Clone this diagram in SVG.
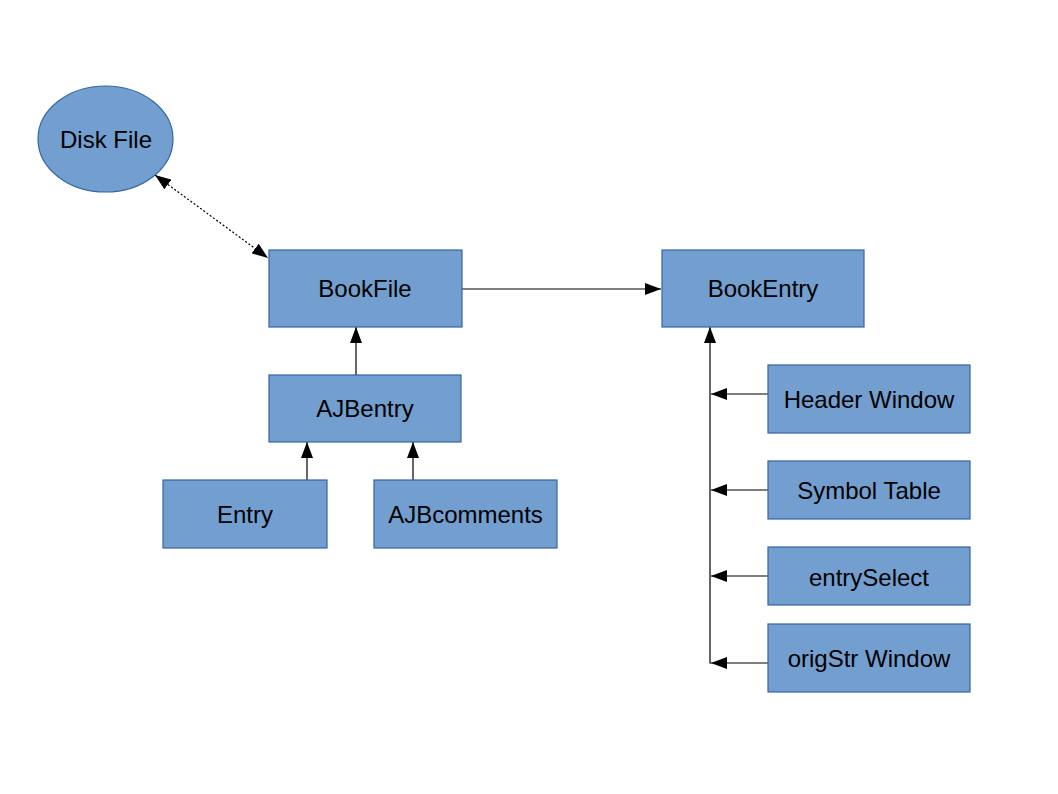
<svg xmlns="http://www.w3.org/2000/svg" width="1058" height="794" viewBox="0 0 1058 794">
<style>
.n{fill:#729fcf;stroke:#3465a4;stroke-width:1.2}
.t{font-family:"Liberation Sans",Arial,sans-serif;font-size:24px;fill:#000;text-anchor:middle}
.c{stroke:#000;stroke-width:1.2;fill:none}
</style>
<defs>
<marker id="a" viewBox="0 0 16 12" refX="16" refY="6" markerWidth="16" markerHeight="12" markerUnits="userSpaceOnUse" orient="auto-start-reverse">
<path d="M0,0 L16,6 L0,12 Z" fill="#000"/>
</marker>
</defs>
<rect width="1058" height="794" fill="#fff"/>
<g id="connectors">
<line class="c" x1="155" y1="175" x2="268" y2="258" stroke-dasharray="2,2" marker-start="url(#a)" marker-end="url(#a)"/>
<line class="c" x1="462" y1="289" x2="661" y2="289" marker-end="url(#a)"/>
<line class="c" x1="356" y1="375" x2="356" y2="327" marker-end="url(#a)"/>
<line class="c" x1="307" y1="480" x2="307" y2="442" marker-end="url(#a)"/>
<line class="c" x1="413" y1="480" x2="413" y2="442" marker-end="url(#a)"/>
<polyline class="c" points="711,663 710,663 710,327" marker-end="url(#a)"/>
<line class="c" x1="768" y1="394" x2="711" y2="394" marker-end="url(#a)"/>
<line class="c" x1="768" y1="490" x2="711" y2="490" marker-end="url(#a)"/>
<line class="c" x1="768" y1="576" x2="711" y2="576" marker-end="url(#a)"/>
<line class="c" x1="768" y1="663" x2="711" y2="663" marker-end="url(#a)"/>
</g>
<g id="diskfile"><ellipse class="n" cx="105.5" cy="139" rx="67.5" ry="53"/><text class="t" x="106" y="148">Disk File</text></g>
<g id="bookfile"><rect class="n" x="269" y="250" width="193" height="77"/><text class="t" x="365" y="297">BookFile</text></g>
<g id="bookentry"><rect class="n" x="662" y="250" width="202" height="77"/><text class="t" x="763" y="297">BookEntry</text></g>
<g id="ajbentry"><rect class="n" x="269" y="375" width="192" height="67"/><text class="t" x="365" y="417">AJBentry</text></g>
<g id="entry"><rect class="n" x="163" y="480" width="164" height="68"/><text class="t" x="245" y="523">Entry</text></g>
<g id="ajbcomments"><rect class="n" x="374" y="480" width="183" height="68"/><text class="t" x="465.5" y="523">AJBcomments</text></g>
<g id="headerwindow"><rect class="n" x="768" y="365" width="202" height="68"/><text class="t" x="869" y="408">Header Window</text></g>
<g id="symboltable"><rect class="n" x="768" y="461" width="202" height="58"/><text class="t" x="869" y="499">Symbol Table</text></g>
<g id="entryselect"><rect class="n" x="768" y="547" width="202" height="58"/><text class="t" x="869" y="586">entrySelect</text></g>
<g id="origstrwindow"><rect class="n" x="768" y="624" width="202" height="68"/><text class="t" x="869" y="667">origStr Window</text></g>
</svg>
